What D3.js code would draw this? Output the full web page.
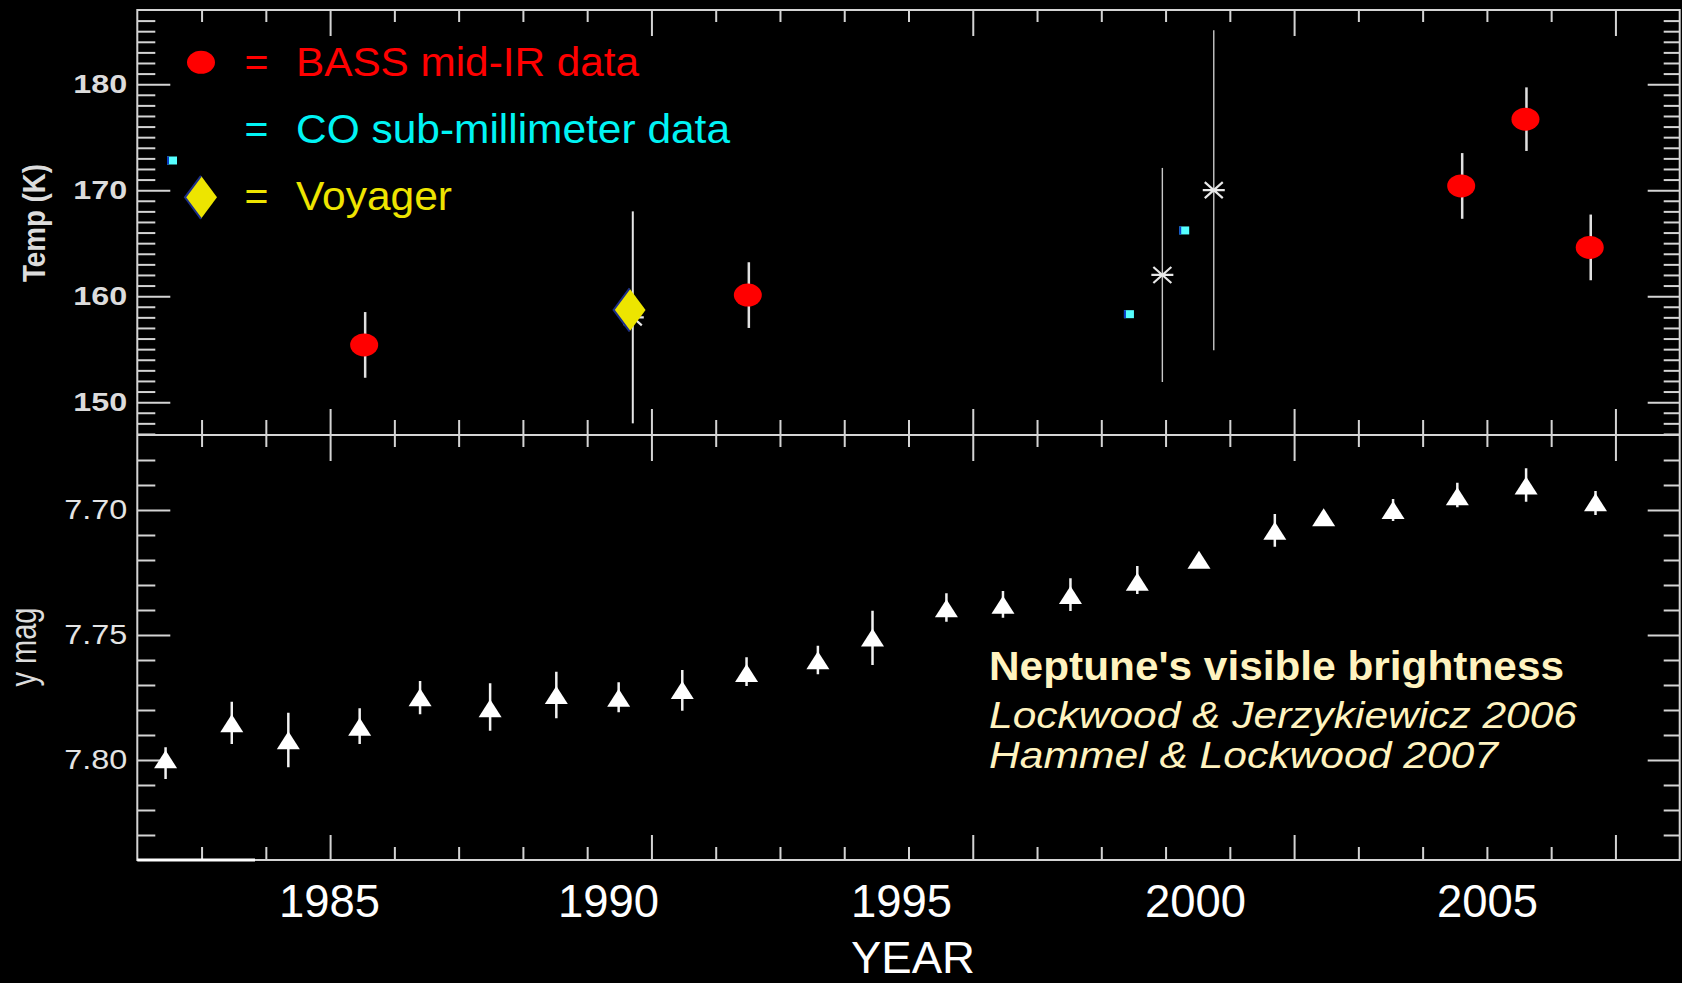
<!DOCTYPE html>
<html>
<head>
<meta charset="utf-8">
<script src="https://cdn.jsdelivr.net/npm/d3@7/dist/d3.min.js"></script>
<style>
  html, body { margin: 0; padding: 0; background: #000; }
  svg { display: block; }
</style>
</head>
<body>
<script>
// ---------------- DATA ----------------
// Upper panel: temperature (K)
const bassYear = [1985.53, 1991.50, 2002.60, 2003.60, 2004.60];
const bassTemp = [155.4, 160.1, 170.4, 176.7, 164.6];
const bassErr  = [3.1, 3.1, 3.1, 3.0, 3.1];

const coYear = [1982.54, 1997.43, 1998.29];
const coTemp = [172.8, 158.3, 166.2];

const voyagerYear = [1989.66];
const voyagerTemp = [158.7];

const starYear = [1989.71, 1997.95, 1998.75];
const starTemp = [158.0, 162.0, 170.0];
const starErr  = [10.0, 10.1, 15.1];

// Lower panel: visible y magnitude
const magYear = [1982.44, 1983.47, 1984.35, 1985.46, 1986.40, 1987.49, 1988.52, 1989.49,
                 1990.48, 1991.48, 1992.59, 1993.44, 1994.59, 1995.47, 1996.52, 1997.56,
                 1998.52, 1999.70, 2000.46, 2001.54, 2002.54, 2003.61, 2004.69];
const magVal = [7.7997, 7.7853, 7.7921, 7.7867, 7.7749, 7.7793, 7.7740, 7.7751,
                7.7720, 7.7652, 7.7601, 7.7510, 7.7393, 7.7379, 7.7340, 7.7287,
                7.7199, 7.7083, 7.7029, 7.7000, 7.6945, 7.6902, 7.6969];
const magErrTop = [7.7949, 7.7767, 7.7811, 7.7793, 7.7684, 7.7693, 7.7647, 7.7689,
                   7.7640, 7.7589, 7.7543, 7.7403, 7.7333, 7.7324, 7.7273, 7.7224,
                   7.7190, 7.7016, 7.7020, 7.6956, 7.6891, 7.6833, 7.6924];
const magErrBottom = [7.8076, 7.7936, 7.8029, 7.7936, 7.7817, 7.7883, 7.7833, 7.7809,
                      7.7803, 7.7704, 7.7657, 7.7620, 7.7447, 7.7431, 7.7404, 7.7336,
                      7.7208, 7.7147, 7.7038, 7.7044, 7.6989, 7.6967, 7.7020];

// Ticks and labels
const majorYears = [1985, 1990, 1995, 2000, 2005];
const minorYears = [1983, 1984, 1986, 1987, 1988, 1989, 1991, 1992, 1993, 1994, 1996,
                    1997, 1998, 1999, 2001, 2002, 2003, 2004];
const tempMajor = [150, 160, 170, 180];
const tempMinor = d3.range(147, 187).filter(v => v % 10 !== 0);
const magMajor = [7.70, 7.75, 7.80];
const magMinor = [7.68, 7.69, 7.71, 7.72, 7.73, 7.74, 7.76, 7.77, 7.78, 7.79, 7.81, 7.82, 7.83];

const legendItems = ["BASS mid-IR data", "CO sub-millimeter data", "Voyager"];
const noteLines = ["Neptune's visible brightness", "Lockwood & Jerzykiewicz 2006", "Hammel & Lockwood 2007"];

// ---------------- LAYOUT ----------------
const W = 1682, H = 983;
const L = 137.3, R = 1679.7, T0 = 10, MID = 435, B = 860;
const axisColor = "#d4d4d4";

const svg = d3.select("body").append("svg")
  .attr("width", W).attr("height", H)
  .style("background", "#000");

const x = d3.scaleLinear().domain([1982, 2006]).range([L, R]);
const yT = d3.scaleLinear().domain([146.9, 187]).range([MID, T0]);
const yM = d3.scaleLinear().domain([7.67, 7.84]).range([MID, B]);
// the year labels of the source image sit on their own (slightly different) spacing
const xLab = d3.scaleLinear().domain([1985, 1990, 1995, 2000, 2005]).range([329, 608, 901, 1195, 1487]);

function styleAxis(g) {
  g.select(".domain").remove();
  g.selectAll(".tick line").attr("stroke", axisColor).attr("stroke-width", 2);
}

// ----- X ticks -----
function xTicks(y, gen, minorLen, majorLen) {
  svg.append("g").attr("transform", `translate(0,${y})`)
    .call(gen(x).tickValues(minorYears).tickSize(minorLen).tickFormat(""))
    .call(styleAxis);
  svg.append("g").attr("transform", `translate(0,${y})`)
    .call(gen(x).tickValues(majorYears).tickSize(majorLen).tickFormat(""))
    .call(styleAxis);
}
xTicks(T0, d3.axisTop, -12, -26);
xTicks(MID, d3.axisBottom, -15, -26);
xTicks(MID, d3.axisTop, -12, -26);
xTicks(B, d3.axisBottom, -13, -25);

// ----- Y ticks upper -----
svg.append("g").attr("transform", `translate(${L},0)`)
  .call(d3.axisLeft(yT).tickValues(tempMinor).tickSize(-18).tickFormat(""))
  .call(styleAxis);
const tempAx = svg.append("g").attr("transform", `translate(${L},0)`)
  .call(d3.axisLeft(yT).tickValues(tempMajor).tickSize(-33).tickPadding(10).tickFormat(d3.format("d")))
  .call(styleAxis);
tempAx.selectAll("text")
  .attr("fill", "#dcdcdc")
  .style("font-family", "'Liberation Sans', Arial, sans-serif")
  .style("font-weight", "bold")
  .style("font-size", "25px")
  .attr("textLength", 54).attr("lengthAdjust", "spacingAndGlyphs");
svg.append("g").attr("transform", `translate(${R},0)`)
  .call(d3.axisRight(yT).tickValues(tempMinor).tickSize(-16).tickFormat(""))
  .call(styleAxis);
svg.append("g").attr("transform", `translate(${R},0)`)
  .call(d3.axisRight(yT).tickValues(tempMajor).tickSize(-32).tickFormat(""))
  .call(styleAxis);

// ----- Y ticks lower -----
svg.append("g").attr("transform", `translate(${L},0)`)
  .call(d3.axisLeft(yM).tickValues(magMinor).tickSize(-18).tickFormat(""))
  .call(styleAxis);
const magAx = svg.append("g").attr("transform", `translate(${L},0)`)
  .call(d3.axisLeft(yM).tickValues(magMajor).tickSize(-33).tickPadding(10).tickFormat(d3.format(".2f")))
  .call(styleAxis);
magAx.selectAll("text")
  .attr("fill", "#e4e4e4")
  .style("font-family", "'Liberation Sans', Arial, sans-serif")
  .style("font-size", "28px")
  .attr("textLength", 63).attr("lengthAdjust", "spacingAndGlyphs");
svg.append("g").attr("transform", `translate(${R},0)`)
  .call(d3.axisRight(yM).tickValues(magMinor).tickSize(-16).tickFormat(""))
  .call(styleAxis);
svg.append("g").attr("transform", `translate(${R},0)`)
  .call(d3.axisRight(yM).tickValues(magMajor).tickSize(-32).tickFormat(""))
  .call(styleAxis);

// ----- Frame -----
const frame = svg.append("g").attr("stroke", axisColor).attr("stroke-width", 2).attr("fill", "none");
frame.append("rect").attr("x", L).attr("y", T0).attr("width", R - L).attr("height", B - T0);
frame.append("line").attr("x1", L).attr("x2", R).attr("y1", MID).attr("y2", MID);
frame.append("line").attr("x1", L).attr("x2", 255).attr("y1", B).attr("y2", B)
  .attr("stroke", "#ffffff").attr("stroke-width", 3);

// ----- Year labels -----
const labAx = svg.append("g").attr("transform", `translate(0,${B})`)
  .call(d3.axisBottom(xLab).tickValues(majorYears).tickSize(0).tickFormat(d3.format("d")));
labAx.select(".domain").remove();
labAx.selectAll("text")
  .attr("y", 57).attr("dy", 0)
  .attr("fill", "#ffffff")
  .style("font-family", "'Liberation Sans', Arial, sans-serif")
  .style("font-size", "46px")
  .attr("textLength", 101).attr("lengthAdjust", "spacingAndGlyphs");

svg.append("text").text("YEAR")
  .attr("x", 913).attr("y", 973).attr("text-anchor", "middle")
  .attr("fill", "#ffffff")
  .style("font-family", "'Liberation Sans', Arial, sans-serif")
  .style("font-size", "44px")
  .attr("textLength", 124).attr("lengthAdjust", "spacingAndGlyphs");

// ----- Axis titles -----
svg.append("text").text("Temp (K)")
  .attr("transform", "translate(45,223) rotate(-90) scale(1,1.15)")
  .attr("text-anchor", "middle")
  .attr("fill", "#dcdcdc")
  .style("font-family", "'Liberation Sans', Arial, sans-serif")
  .style("font-weight", "bold")
  .style("font-size", "27px")
  .attr("textLength", 118).attr("lengthAdjust", "spacingAndGlyphs");
svg.append("text").text("y mag")
  .attr("transform", "translate(36,647) rotate(-90) scale(1,1.27)")
  .attr("text-anchor", "middle")
  .attr("fill", "#dcdcdc")
  .style("font-family", "'Liberation Sans', Arial, sans-serif")
  .style("font-size", "29px")
  .attr("textLength", 79).attr("lengthAdjust", "spacingAndGlyphs");

// ---------------- MARKS: upper panel ----------------
const up = svg.append("g");

// asterisk error bars
up.selectAll("line.starErr").data(starYear).join("line")
  .attr("x1", d => x(d)).attr("x2", d => x(d))
  .attr("y1", (d, i) => yT(starTemp[i] + starErr[i]))
  .attr("y2", (d, i) => yT(starTemp[i] - starErr[i]))
  .attr("stroke", (d, i) => i === 0 ? "#e6e6e6" : "#c8c8c8")
  .attr("stroke-width", (d, i) => i === 0 ? 2 : 1.4);

// asterisks
const starPath = "M-11,0L11,0M-9,-8L9,8M-9,8L9,-8";
up.selectAll("path.star").data(starYear).join("path")
  .attr("transform", (d, i) => `translate(${x(d)},${yT(starTemp[i])})`)
  .attr("d", starPath)
  .attr("stroke", "#e8e8e8").attr("stroke-width", 2.2).attr("fill", "none");

// BASS error bars + ellipses
up.selectAll("line.bassErr").data(bassYear).join("line")
  .attr("x1", d => x(d) + 1).attr("x2", d => x(d) + 1)
  .attr("y1", (d, i) => yT(bassTemp[i] + bassErr[i]))
  .attr("y2", (d, i) => yT(bassTemp[i] - bassErr[i]))
  .attr("stroke", "#e0e0e0").attr("stroke-width", 2.5);
up.selectAll("ellipse.bass").data(bassYear).join("ellipse")
  .attr("cx", d => x(d)).attr("cy", (d, i) => yT(bassTemp[i]))
  .attr("rx", 14).attr("ry", 11.5)
  .attr("fill", "#ff0000");

// CO squares
const coG = up.selectAll("g.co").data(coYear).join("g")
  .attr("transform", (d, i) => `translate(${x(d)},${yT(coTemp[i])})`);
coG.append("rect").attr("x", -5).attr("y", -4).attr("width", 10).attr("height", 8).attr("fill", "#55ffff");
coG.append("rect").attr("x", -5).attr("y", -4).attr("width", 2).attr("height", 8).attr("fill", "#0a3cc8");

// Voyager diamond
function drawDiamond(g, cx, cy, hw, hh) {
  g.append("path")
    .attr("d", `M${cx},${cy - hh}L${cx + hw},${cy}L${cx},${cy + hh}L${cx - hw},${cy}Z`)
    .attr("fill", "#ede500");
  g.append("path")
    .attr("d", `M${cx},${cy - hh}L${cx - hw},${cy}L${cx},${cy + hh}`)
    .attr("fill", "none").attr("stroke", "#1c2f8a").attr("stroke-width", 2);
}
voyagerYear.forEach((d, i) => drawDiamond(up, x(d), yT(voyagerTemp[i]), 16, 21.5));

// ---------------- Legend ----------------
const legColors = ["#ff0000", "#00f4f4", "#eee400"];
const legBase = [76, 142.7, 210];
const legWidth = [343, 434, 156];
const legFont = "'Liberation Sans', Arial, sans-serif";
legendItems.forEach((t, i) => {
  svg.append("text").text("=")
    .attr("x", 244.5).attr("y", legBase[i])
    .attr("fill", legColors[i])
    .style("font-family", legFont).style("font-size", "41px");
  svg.append("text").text(t)
    .attr("x", 296).attr("y", legBase[i])
    .attr("fill", legColors[i])
    .style("font-family", legFont).style("font-size", "41px")
    .attr("textLength", legWidth[i]).attr("lengthAdjust", "spacingAndGlyphs");
});
svg.append("ellipse").attr("cx", 201).attr("cy", 62.3).attr("rx", 14).attr("ry", 11.5).attr("fill", "#ff0000");
drawDiamond(svg.append("g"), 201, 197.3, 16, 21.5);

// ---------------- MARKS: lower panel ----------------
const low = svg.append("g");
low.selectAll("line.magErr").data(magYear).join("line")
  .attr("x1", d => x(d)).attr("x2", d => x(d))
  .attr("y1", (d, i) => yM(magErrTop[i]))
  .attr("y2", (d, i) => yM(magErrBottom[i]))
  .attr("stroke", "#f2f2f2").attr("stroke-width", 2.5);
low.selectAll("path.tri").data(magYear).join("path")
  .attr("transform", (d, i) => `translate(${x(d)},${yM(magVal[i])})`)
  .attr("d", "M0,-9L11.5,9L-11.5,9Z")
  .attr("fill", "#ffffff");

// ---------------- Note ----------------
const noteColor = "#fff3bf";
const noteBase = [680, 728, 768];
const noteWidth = [575, 588, 509];
noteLines.forEach((t, i) => {
  svg.append("text").text(t)
    .attr("x", 989).attr("y", noteBase[i])
    .attr("fill", noteColor)
    .style("font-family", legFont)
    .style("font-weight", i === 0 ? "bold" : "normal")
    .style("font-style", i === 0 ? "normal" : "italic")
    .style("font-size", i === 0 ? "40px" : "37px")
    .attr("textLength", noteWidth[i]).attr("lengthAdjust", "spacingAndGlyphs");
});
</script>
</body>
</html>
